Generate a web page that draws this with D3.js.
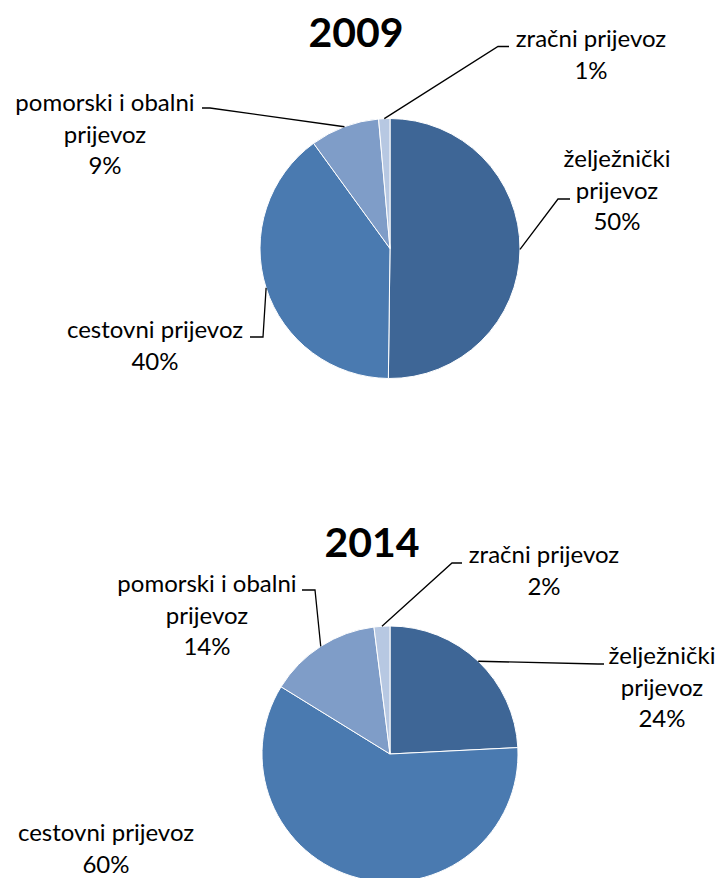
<!DOCTYPE html>
<html>
<head>
<meta charset="utf-8">
<script src="https://cdn.jsdelivr.net/npm/d3@7"></script>
<style>
  body { margin: 0; background: #fff; }
  svg { display: block; }
</style>
</head>
<body>
<svg id="chart" width="720" height="878"></svg>
<script>
// categories in drawing order (clockwise from 12 o'clock)
const categories = ["želježnički prijevoz", "cestovni prijevoz", "pomorski i obalni prijevoz", "zračni prijevoz"];
// how each category name is broken into lines in the labels
const categoryLines = [
    ["želježnički", "prijevoz"],
    ["cestovni prijevoz"],
    ["pomorski i obalni", "prijevoz"],
    ["zračni prijevoz"]
];
const years = ["2009", "2014"];
const values2009 = [50.2, 39.8, 8.6, 1.4];
const values2014 = [24.2, 59.6, 14.2, 2.0];

const colors = ["#3e6696", "#4a7ab0", "#7f9dc8", "#b7c8e2"];
const fontFamily = "Lato, 'Open Sans', sans-serif";

// layout per chart: pie centre, radius, title, label boxes and leader elbows
const layouts = [
    {
        cx: 390, cy: 248.5, r: 130,
        title: {x: 356, y: 47},
        labels: [
            {x: 617, y: 167, leader: [[558, 199], [570, 199]]},
            {x: 155, y: 338, leader: [[263, 337], [250, 337]]},
            {x: 105, y: 111, leader: [[210, 108], [202, 108]]},
            {x: 591, y: 47, leader: [[498, 46.5], [509, 46.5]]}
        ]
    },
    {
        cx: 390, cy: 754, r: 128,
        title: {x: 372, y: 557},
        labels: [
            {x: 662, y: 664, leader: [[598, 664], [604, 664]]},
            {x: 106, y: 841, leader: null},
            {x: 207, y: 592, leader: [[315, 590], [302, 590]]},
            {x: 544, y: 563, leader: [[452, 563], [462, 563]]}
        ]
    }
];

const svg = d3.select("#chart");
const lineHeight = 31.5;

function drawPie(values, year, layout) {
    const g = svg.append("g");

    const pie = d3.pie().sort(null).value(d => d);
    const arcs = pie(values);

    const arc = d3.arc().innerRadius(0).outerRadius(layout.r);

    g.append("g")
        .attr("transform", "translate(" + layout.cx + "," + layout.cy + ")")
        .selectAll("path")
        .data(arcs)
        .enter()
        .append("path")
        .attr("d", arc)
        .attr("fill", (d, i) => colors[i])
        .attr("stroke", "#fff")
        .attr("stroke-width", 1);

    g.append("text")
        .attr("x", layout.title.x)
        .attr("y", layout.title.y)
        .attr("text-anchor", "middle")
        .attr("font-family", fontFamily)
        .attr("font-weight", "bold")
        .attr("font-size", 41)
        .attr("fill", "#000")
        .text(year);

    arcs.forEach((a, i) => {
        const lab = layout.labels[i];
        if (lab.leader) {
            const mid = (a.startAngle + a.endAngle) / 2;
            const start = [layout.cx + layout.r * Math.sin(mid), layout.cy - layout.r * Math.cos(mid)];
            const pts = [start].concat(lab.leader);
            g.append("path")
                .attr("d", d3.line()(pts))
                .attr("fill", "none")
                .attr("stroke", "#000")
                .attr("stroke-width", 1.3);
        }

        const lines = categoryLines[i].concat([Math.round(a.data) + "%"]);
        const t = g.append("text")
            .attr("text-anchor", "middle")
            .attr("font-family", fontFamily)
            .attr("font-size", 24)
            .attr("fill", "#000");
        lines.forEach((s, k) => {
            t.append("tspan")
                .attr("x", lab.x)
                .attr("y", lab.y + k * lineHeight)
                .text(s);
        });
    });
}

drawPie(values2009, years[0], layouts[0]);
drawPie(values2014, years[1], layouts[1]);
</script>
</body>
</html>
